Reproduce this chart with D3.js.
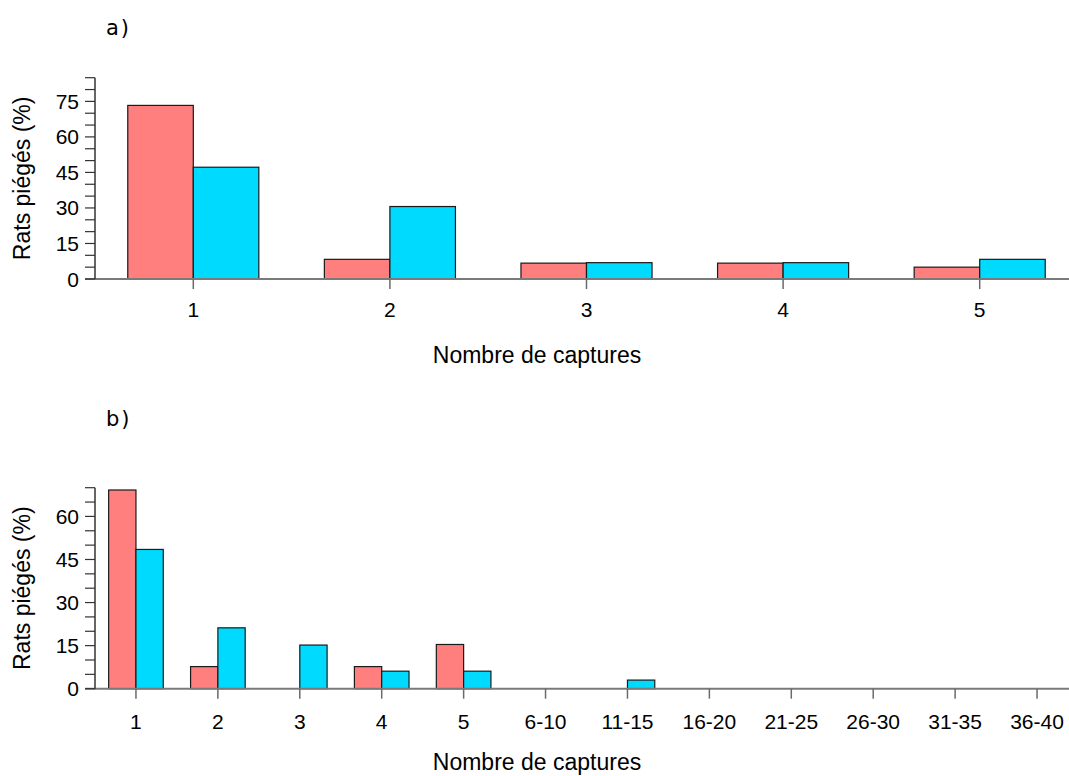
<!DOCTYPE html>
<html>
<head>
<meta charset="utf-8">
<script src="https://cdn.jsdelivr.net/npm/d3@7"></script>
<style>
  html, body { margin: 0; padding: 0; background: #fff; }
  svg { display: block; }
</style>
</head>
<body>
<svg id="chart" width="1069" height="776"></svg>
<script>
// ---- data ----
const categoriesA = ["1", "2", "3", "4", "5"];
const redA  = [73.3, 8.3, 6.7, 6.7, 5.0];
const blueA = [47.2, 30.6, 6.9, 6.9, 8.3];
const yTicksA = [0, 15, 30, 45, 60, 75];

const categoriesB = ["1", "2", "3", "4", "5", "6-10", "11-15", "16-20", "21-25", "26-30", "31-35", "36-40"];
const redB  = [69.2, 7.7, 0, 7.7, 15.4, 0, 0, 0, 0, 0, 0, 0];
const blueB = [48.5, 21.2, 15.2, 6.1, 6.1, 0, 3.0, 0, 0, 0, 0, 0];
const yTicksB = [0, 15, 30, 45, 60];

const panelLabels = ["a)", "b)"];
const xTitle = "Nombre de captures";
const yTitle = "Rats piégés (%)";

// ---- drawing ----
const svg = d3.select("#chart");
const RED = "#FF7F7F", BLUE = "#00DAFF";
const FONT = "'Liberation Sans', Arial, sans-serif";

function panel(cfg) {
  const g = svg.append("g");
  const x = d3.scaleBand().domain(cfg.cats).range([95, 1078])
    .paddingInner(1 / 3).paddingOuter(1 / 6);
  const x1 = d3.scaleBand().domain(["red", "blue"]).range([0, x.bandwidth()]);
  const y = d3.scaleLinear().domain([0, cfg.yMax]).range([cfg.bottom, cfg.top]);

  const bars = [];
  cfg.cats.forEach((c, i) => {
    bars.push({ c, k: "red", v: cfg.red[i] });
    bars.push({ c, k: "blue", v: cfg.blue[i] });
  });

  g.selectAll("rect.bar").data(bars.filter(d => d.v > 0)).join("rect")
    .attr("class", "bar")
    .attr("x", d => x(d.c) + x1(d.k))
    .attr("y", d => y(d.v))
    .attr("width", x1.bandwidth())
    .attr("height", d => y(0) - y(d.v))
    .attr("fill", d => d.k === "red" ? RED : BLUE)
    .attr("stroke", "#1a1a1a")
    .attr("stroke-width", 1.2);

  // x axis
  g.append("line")
    .attr("x1", 85).attr("x2", 1069)
    .attr("y1", y(0)).attr("y2", y(0))
    .attr("stroke", "#7a7a7a").attr("stroke-width", 2);
  g.selectAll("line.xt").data(cfg.cats).join("line")
    .attr("class", "xt")
    .attr("x1", d => x(d) + x.bandwidth() / 2).attr("x2", d => x(d) + x.bandwidth() / 2)
    .attr("y1", y(0)).attr("y2", y(0) + 10)
    .attr("stroke", "#6a6a6a").attr("stroke-width", 1.5);
  g.selectAll("text.xl").data(cfg.cats).join("text")
    .attr("class", "xl")
    .attr("x", d => x(d) + x.bandwidth() / 2)
    .attr("y", y(0) + cfg.xlOff)
    .attr("text-anchor", "middle")
    .attr("font-family", FONT).attr("font-size", 21)
    .attr("fill", "#000")
    .text(d => d);

  // y axis
  g.append("line")
    .attr("x1", 95).attr("x2", 95)
    .attr("y1", y(cfg.yMax)).attr("y2", y(0))
    .attr("stroke", "#333").attr("stroke-width", 1.5);
  g.selectAll("line.yt").data(d3.range(0, cfg.yMax + 0.001, 5)).join("line")
    .attr("class", "yt")
    .attr("x1", 85).attr("x2", 95)
    .attr("y1", d => y(d)).attr("y2", d => y(d))
    .attr("stroke", "#333").attr("stroke-width", 1.2);
  g.selectAll("text.yl").data(cfg.yTicks).join("text")
    .attr("class", "yl")
    .attr("x", 79)
    .attr("y", d => y(d) + 7.5)
    .attr("text-anchor", "end")
    .attr("font-family", FONT).attr("font-size", 21)
    .attr("fill", "#000")
    .text(d => d);

  // titles
  g.append("text")
    .attr("x", 537).attr("y", y(0) + cfg.xtOff)
    .attr("text-anchor", "middle")
    .attr("font-family", FONT).attr("font-size", 23)
    .attr("fill", "#000")
    .text(xTitle);
  const cy = (y(0) + y(cfg.yMax)) / 2;
  g.append("text")
    .attr("transform", `translate(30,${cy}) rotate(-90)`)
    .attr("text-anchor", "middle")
    .attr("font-family", FONT).attr("font-size", 23)
    .attr("fill", "#000")
    .text(yTitle);
  g.append("text")
    .attr("x", 106).attr("y", cfg.labelY)
    .attr("font-family", "'DejaVu Sans', Verdana, sans-serif").attr("font-size", 21)
    .attr("letter-spacing", 2)
    .attr("fill", "#000")
    .text(cfg.label);
}

panel({ cats: categoriesA, red: redA, blue: blueA, yTicks: yTicksA, yMax: 85,
        top: 77.7, bottom: 279, label: panelLabels[0], labelY: 35, xlOff: 38, xtOff: 84 });
panel({ cats: categoriesB, red: redB, blue: blueB, yTicks: yTicksB, yMax: 70,
        top: 487.7, bottom: 688.7, label: panelLabels[1], labelY: 426, xlOff: 40, xtOff: 81 });
</script>
</body>
</html>
